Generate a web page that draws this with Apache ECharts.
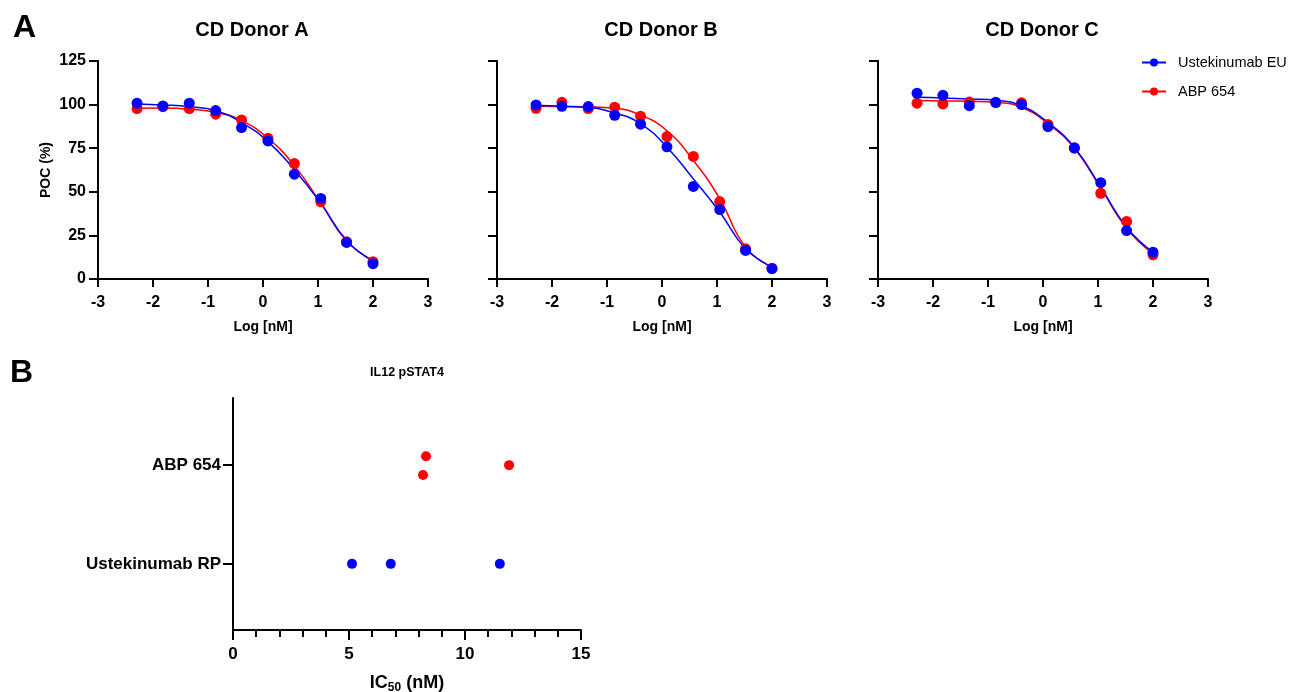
<!DOCTYPE html>
<html>
<head>
<meta charset="utf-8">
<script src="https://cdn.jsdelivr.net/npm/echarts@6/dist/echarts.min.js"></script>
<style>
html,body{margin:0;padding:0;background:#fff;}
#chart{width:1291px;height:692px;}
</style>
</head>
<body>
<div id="chart"></div>
<script>
// ---- Data ----
const seriesNames = ['Ustekinumab EU', 'ABP 654'];
const donorTitles = ['CD Donor A', 'CD Donor B', 'CD Donor C'];
const logDose = [-2.29, -1.82, -1.34, -0.86, -0.39, 0.09, 0.57, 1.05, 1.52, 2.0];

// measured points (POC %)
const donorA_ust = [100.8, 99.2, 100.8, 96.6, 86.8, 79.2, 60.1, 46.2, 21.0, 8.8];
const donorA_abp = [97.7, 98.8, 97.7, 94.5, 91.2, 80.7, 66.2, 44.3, 21.3, 9.9];
const donorB_ust = [99.8, 99.0, 98.9, 93.9, 88.8, 75.8, 53.1, 39.8, 16.4, 5.9];
const donorB_abp = [97.9, 101.3, 97.7, 98.5, 93.3, 81.7, 70.3, 44.4, 17.3, 6.2];
const donorC_ust = [106.5, 105.3, 99.4, 101.3, 100.0, 87.4, 75.2, 55.2, 27.8, 15.4];
const donorC_abp = [100.8, 100.4, 101.5, 101.1, 101.0, 88.6, 75.0, 49.1, 33.0, 13.9];

// fitted curves at the same doses
const fitA_ust = [100.4, 99.8, 98.8, 96.5, 89.7, 78.8, 62.6, 43.5, 22.1, 10.3];
const fitA_abp = [97.9, 98.0, 97.4, 95.6, 90.8, 80.7, 65.0, 43.5, 21.8, 10.7];
const fitB_ust = [99.6, 99.0, 98.3, 95.2, 89.0, 75.6, 57.4, 38.4, 17.4, 6.9];
const fitB_abp = [99.0, 98.9, 98.7, 97.9, 94.0, 85.0, 68.0, 46.0, 18.3, 6.9];
const fitC_ust = [104.2, 103.8, 103.2, 102.5, 99.2, 89.7, 75.4, 52.6, 29.7, 15.4];
const fitC_abp = [102.3, 102.1, 101.9, 101.3, 98.3, 89.1, 75.0, 52.2, 29.1, 14.5];

const yTicksA = [0, 25, 50, 75, 100, 125];
const xTicksA = [-3, -2, -1, 0, 1, 2, 3];

// panel B: IC50 (nM)
const bCategories = ['Ustekinumab RP', 'ABP 654'];
const ic50_ust = [5.13, 6.8, 11.5];
const ic50_abp = [8.32, 8.19, 11.9];
const jitter_ust = [0, 0, 0];
const jitter_abp = [0.09, -0.10, 0];
const xTicksB = [0, 5, 10, 15];

// ---- Build option ----
const BLUE = '#0000ff', RED = '#ff0000';
const FONT = '"Liberation Sans", Arial, Helvetica, sans-serif';
const donorPoints = [[donorA_ust, donorA_abp], [donorB_ust, donorB_abp], [donorC_ust, donorC_abp]];
const donorFits = [[fitA_ust, fitA_abp], [fitB_ust, fitB_abp], [fitC_ust, fitC_abp]];
const gridLefts = [98, 497, 878];
const gridW = 330;

const zip = (xs, ys) => xs.map((x, i) => [x, ys[i]]);

const grids = [], xAxes = [], yAxes = [], series = [];
const axisLineStyle = {show: true, onZero: false, lineStyle: {color: '#000', width: 2}};
const tickStyle = (len) => ({show: true, inside: false, length: len, lineStyle: {color: '#000', width: 2}});
const boldLabel = (size) => ({color: '#000', fontWeight: 'bold', fontSize: size, fontFamily: FONT});

for (let d = 0; d < 3; d++) {
  grids.push({left: gridLefts[d], top: 61, width: gridW, height: 218, containLabel: false, outerBoundsMode: 'none'});
  xAxes.push({
    type: 'value', gridIndex: d, min: xTicksA[0], max: xTicksA[xTicksA.length - 1], interval: 1,
    axisLine: axisLineStyle, axisTick: tickStyle(8), splitLine: {show: false},
    axisLabel: Object.assign({margin: 16}, boldLabel(16)),
    name: 'Log [nM]', nameLocation: 'middle', nameGap: 41,
    nameTextStyle: {color: '#000', fontWeight: 'bold', fontSize: 14, fontFamily: FONT}
  });
  yAxes.push({
    type: 'value', gridIndex: d, min: yTicksA[0], max: yTicksA[yTicksA.length - 1], interval: 25,
    axisLine: axisLineStyle, axisTick: tickStyle(9), splitLine: {show: false},
    axisLabel: Object.assign({show: d === 0, margin: 12}, boldLabel(16)),
    name: d === 0 ? 'POC (%)' : '', nameLocation: 'middle', nameGap: 45,
    nameTextStyle: {color: '#000', fontWeight: 'bold', fontSize: 14, fontFamily: FONT}
  });
  // fitted curves (red first, then blue)
  [1, 0].forEach(s => {
    series.push({
      name: seriesNames[s], type: 'line', xAxisIndex: d, yAxisIndex: d,
      data: zip(logDose, donorFits[d][s]), smooth: 0.5,
      symbol: 'circle', symbolSize: 10, showSymbol: false,
      lineStyle: {color: s === 0 ? BLUE : RED, width: 1.5},
      itemStyle: {color: s === 0 ? BLUE : RED},
      silent: true, z: 2
    });
  });
  [1, 0].forEach(s => {
    series.push({
      name: seriesNames[s], type: 'scatter', xAxisIndex: d, yAxisIndex: d,
      data: zip(logDose, donorPoints[d][s]), symbol: 'circle', symbolSize: 11,
      itemStyle: {color: s === 0 ? BLUE : RED, opacity: 1}, z: 3
    });
  });
}

// Panel B
grids.push({left: 233, top: 398, width: 348, height: 232, containLabel: false, outerBoundsMode: 'none'});
xAxes.push({
  type: 'value', gridIndex: 3, min: xTicksB[0], max: xTicksB[xTicksB.length - 1], interval: 5,
  axisLine: axisLineStyle, axisTick: tickStyle(10),
  minorTick: {show: true, splitNumber: 5, length: 7, lineStyle: {color: '#000', width: 2}},
  splitLine: {show: false}, minorSplitLine: {show: false},
  axisLabel: Object.assign({margin: 16}, boldLabel(17)),
  name: '{a|IC}{s|50}{a| (nM)}', nameLocation: 'middle', nameGap: 42,
  nameTextStyle: {
    rich: {
      a: {color: '#000', fontWeight: 'bold', fontSize: 18, fontFamily: FONT},
      s: {color: '#000', fontWeight: 'bold', fontSize: 12, fontFamily: FONT, padding: [10, 0, 0, 0]}
    }
  }
});
yAxes.push({
  type: 'value', gridIndex: 3, min: -0.67, max: 1.68,
  axisLine: axisLineStyle,
  axisTick: Object.assign(tickStyle(10), {customValues: [0, 1]}),
  splitLine: {show: false},
  axisLabel: Object.assign({margin: 12, customValues: [0, 1],
    formatter: v => bCategories[Math.round(v)] || ''}, boldLabel(17))
});
series.push({
  name: 'ABP 654 IC50', type: 'scatter', xAxisIndex: 3, yAxisIndex: 3,
  data: ic50_abp.map((v, i) => [v, 1 + jitter_abp[i]]), symbolSize: 10,
  itemStyle: {color: RED, opacity: 1}
});
series.push({
  name: 'Ustekinumab RP IC50', type: 'scatter', xAxisIndex: 3, yAxisIndex: 3,
  data: ic50_ust.map((v, i) => [v, 0 + jitter_ust[i]]), symbolSize: 10,
  itemStyle: {color: BLUE, opacity: 1}
});

const txt = (text, x, y, size, align) => ({
  type: 'text', x: x, y: y,
  style: {text: text, fill: '#000', font: 'bold ' + size + 'px ' + FONT,
          textAlign: align || 'center', textVerticalAlign: 'middle'}
});

const option = {
  animation: false,
  backgroundColor: '#fff',
  graphic: [
    txt('A', 13, 28, 32, 'left'),
    txt('B', 10, 373, 32, 'left'),
    txt(donorTitles[0], 252, 30, 20),
    txt(donorTitles[1], 661, 30, 20),
    txt(donorTitles[2], 1042, 30, 20),
    txt('IL12 pSTAT4', 407, 373, 12.5)
  ],
  legend: {
    data: seriesNames, orient: 'vertical', left: 1136, top: 50,
    itemWidth: 24, itemHeight: 10, itemGap: 14,
    textStyle: {color: '#000', fontSize: 14.5, fontFamily: FONT, padding: [0, 0, 0, 7]},
    selectedMode: false
  },
  grid: grids, xAxis: xAxes, yAxis: yAxes, series: series
};

const chart = echarts.init(document.getElementById('chart'), null, {renderer: 'canvas'});
chart.setOption(option);
</script>
</body>
</html>
